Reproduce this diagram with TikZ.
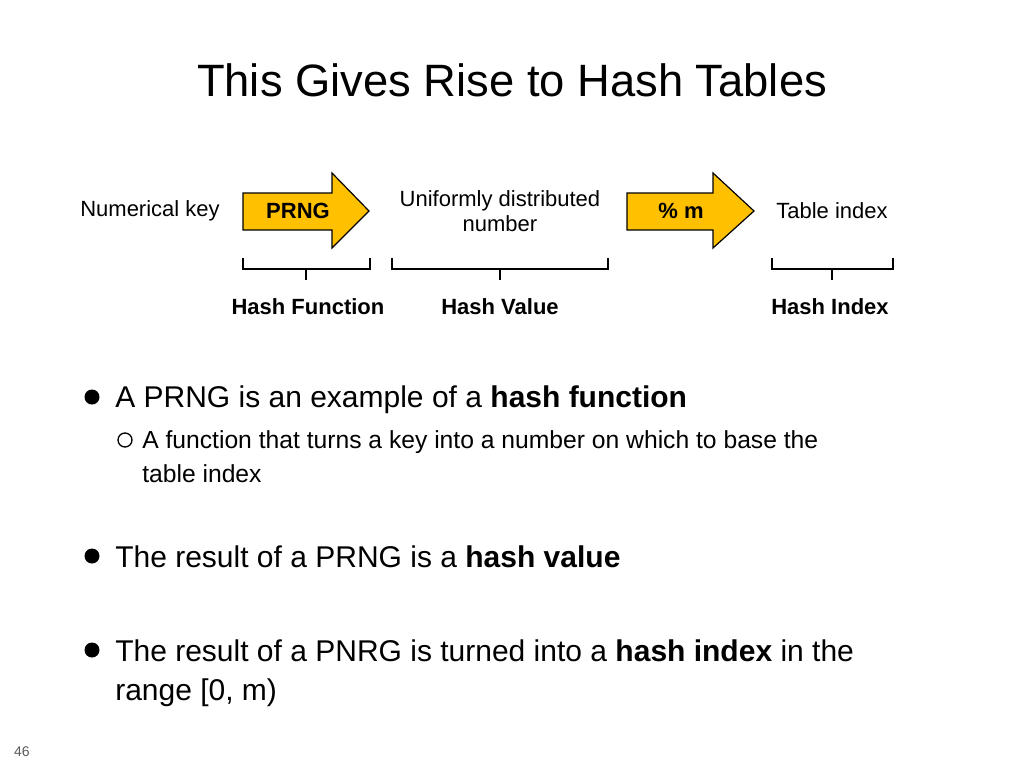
\documentclass[tikz,border=0pt]{standalone}
\usepackage{fontspec}
\setmainfont{Liberation Sans}
\begin{document}
\begin{tikzpicture}[x=0.75pt,y=-0.75pt,
  arr/.style={draw=black,fill=orange!20!yellow!90!orange,line width=0.9pt,line join=miter},
  brc/.style={draw=black,line width=1pt},
  lbl/.style={font=\fontsize{16.5}{19}\selectfont,align=center},
  blbl/.style={font=\fontsize{16.5}{19}\selectfont\bfseries},
  bt/.style={font=\fontsize{22.5}{29}\selectfont,anchor=base west,inner sep=0},
  st/.style={font=\fontsize{18.5}{25}\selectfont,anchor=base west,inner sep=0}]
\definecolor{gold}{RGB}{255,192,0}
\useasboundingbox (0,0) rectangle (1024,768);
\node[font=\fontsize{34}{40}\selectfont] (title) at (512,80) {This Gives Rise to Hash Tables};
% arrows
\draw[arr,fill=gold] (243,193) -- (332,193) -- (332,173) -- (369,211) -- (332,248) -- (332,230) -- (243,230) -- cycle;
\node[blbl] (prng) at (298,211) {PRNG};
\draw[arr,fill=gold] (627,193) -- (713,193) -- (713,173) -- (754,211) -- (713,248) -- (713,230) -- (627,230) -- cycle;
\node[blbl] (mod) at (681,211) {\% m};
\node[lbl] (key) at (150,211) {Numerical key};
\node[lbl] (uni) at (500,211) {Uniformly distributed\\number};
\node[lbl] (tab) at (832,211) {Table index};
% braces
\draw[brc] (243,258) -- (243,269) -- (370,269) -- (370,258) (306,269) -- (306,280);
\draw[brc] (392,258) -- (392,269) -- (608,269) -- (608,258) (500,269) -- (500,280);
\draw[brc] (772,258) -- (772,269) -- (893,269) -- (893,258) (832,269) -- (832,280);
\node[blbl] (hf) at (308,307) {Hash Function};
\node[blbl] (hv) at (500,307) {Hash Value};
\node[blbl] (hi) at (830,307) {Hash Index};
% bullets
\fill (92,397) circle (7.5);
\node[bt] (b1) at (115,407) {A PRNG is an example of a \textbf{hash function}};
\draw[line width=1pt] (125,440) circle (7);
\node[st] (s1) at (142,448) {A function that turns a key into a number on which to base the};
\node[st] (s1b) at (142,482) {table index};
\fill (92,556) circle (7.5);
\node[bt] (b2) at (115,567) {The result of a PRNG is a \textbf{hash value}};
\fill (92,650) circle (7.5);
\node[bt] (b3) at (115,661) {The result of a PNRG is turned into a \textbf{hash index} in the};
\node[bt] (b3b) at (115,700) {range [0, m)};
\node[font=\fontsize{10.5}{12}\selectfont,text=gray!70!black] (pg) at (22,752) {46};
\end{tikzpicture}
\end{document}
